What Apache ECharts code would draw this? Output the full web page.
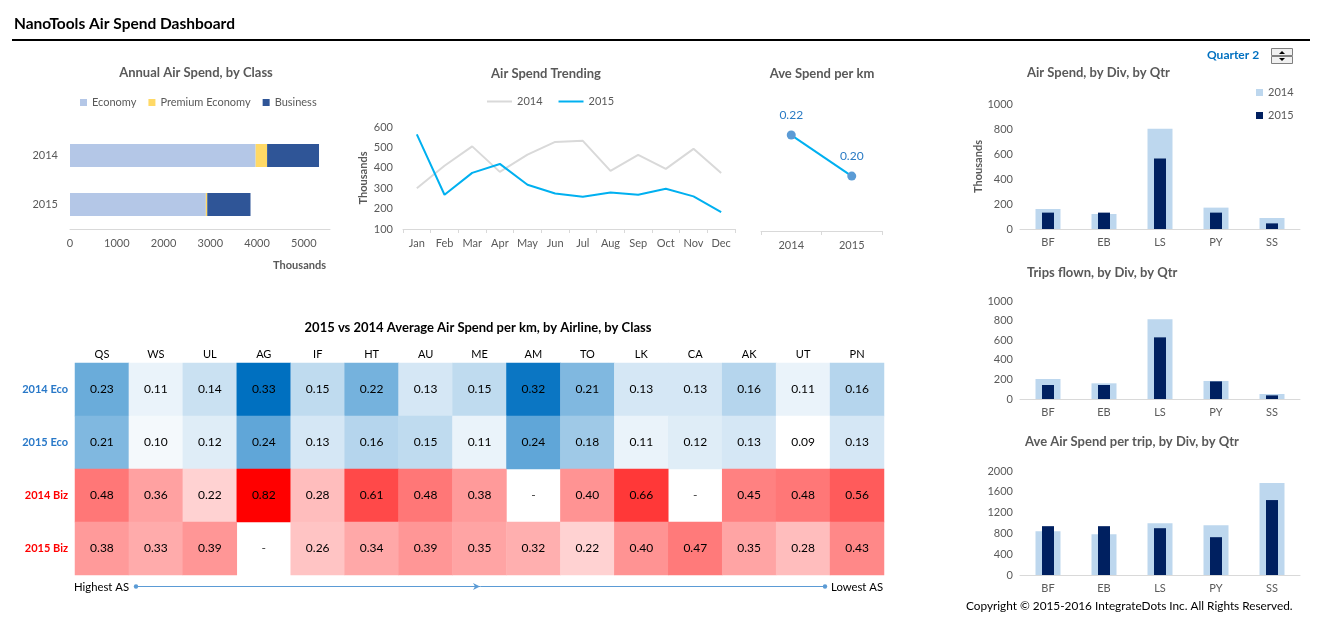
<!DOCTYPE html>
<html><head><meta charset="utf-8">
<script src="https://cdn.jsdelivr.net/npm/echarts@6/dist/echarts.min.js"></script>
<style>html,body{margin:0;padding:0;background:#fff}#c{width:1320px;height:624px}</style>
</head><body><div id="c"></div>
<script>
// ---------- DATA ----------
var years = ['2014', '2015'];
var classNames = ['Economy', 'Premium Economy', 'Business'];
var economy = [3970, 2905];
var premium = [245, 30];
var business = [1110, 925];

var months = ['Jan','Feb','Mar','Apr','May','Jun','Jul','Aug','Sep','Oct','Nov','Dec'];
var trend2014 = [300, 410, 505, 380, 465, 527, 532, 385, 463, 395, 493, 375];
var trend2015 = [564, 268, 375, 419, 317, 274, 258, 279, 268, 297, 260, 183];

var spendPerKm = [0.22, 0.20];

var divs = ['BF','EB','LS','PY','SS'];
var spend2014 = [160, 120, 802, 171, 88];
var spend2015 = [131, 131, 564, 131, 45];
var trips2014 = [204, 160, 813, 184, 51];
var trips2015 = [143, 143, 629, 180, 37];
var perTrip2014 = [842, 785, 997, 958, 1768];
var perTrip2015 = [939, 939, 900, 727, 1441];

var airlines = ['QS','WS','UL','AG','IF','HT','AU','ME','AM','TO','LK','CA','AK','UT','PN'];
var rowLabels = ['2014 Eco','2015 Eco','2014 Biz','2015 Biz'];
var eco2014 = [0.23,0.11,0.14,0.33,0.15,0.22,0.13,0.15,0.32,0.21,0.13,0.13,0.16,0.11,0.16];
var eco2015 = [0.21,0.10,0.12,0.24,0.13,0.16,0.15,0.11,0.24,0.18,0.11,0.12,0.13,0.09,0.13];
var biz2014 = [0.48,0.36,0.22,0.82,0.28,0.61,0.48,0.38,null,0.40,0.66,null,0.45,0.48,0.56];
var biz2015 = [0.38,0.33,0.39,null,0.26,0.34,0.39,0.35,0.32,0.22,0.40,0.47,0.35,0.28,0.43];

// ---------- BUILD ----------
var FONT = 'Lato, "Open Sans", sans-serif';
var GRAY = '#595959', AX = '#d9d9d9';
var LB = '#bdd7ee', DB = '#002060';
function plain(v) { return String(v); }

function heatRows(rows, offset) {
  var out = [];
  rows.forEach(function (r, ri) {
    r.forEach(function (v, ci) { if (v !== null) out.push([ci, ri + offset, v]); });
  });
  return out;
}
var ecoData = heatRows([eco2014, eco2015], 0);
var bizData = heatRows([biz2014, biz2015], 2);
var missing = [];
[eco2014, eco2015, biz2014, biz2015].forEach(function (r, ri) {
  r.forEach(function (v, ci) { if (v === null) missing.push([ci, ri]); });
});

function ttl(text, left, top, align, extra) {
  var o = {text: text, left: left, top: top, padding: 0,
    textStyle: {fontFamily: FONT, fontSize: 13, fontWeight: 'bold', color: GRAY}};
  if (align) o.textAlign = align;
  if (extra) for (var k in extra) o.textStyle[k] = extra[k];
  return o;
}
var lbl = {fontFamily: FONT, fontSize: 11, color: GRAY};
function divX(gi, hidden) {
  var a = {type: 'category', gridIndex: gi, data: divs,
    axisLine: {lineStyle: {color: AX}}, axisTick: {show: false},
    axisLabel: Object.assign({margin: 8}, lbl)};
  if (hidden) a.show = false;
  return a;
}
function divY(gi, max, interval) {
  return {type: 'value', gridIndex: gi, min: 0, max: max, interval: interval,
    splitLine: {show: false}, axisLine: {show: false}, axisTick: {show: false},
    axisLabel: Object.assign({margin: 7, formatter: plain}, lbl)};
}
function divBars(name14, name15, d14, d15, gi, hiddenX) {
  return [
    {type: 'bar', name: name14, xAxisIndex: gi, yAxisIndex: gi, data: d14, barWidth: 25,
      itemStyle: {color: LB}, z: 2},
    {type: 'bar', name: name15, xAxisIndex: hiddenX, yAxisIndex: gi, data: d15, barWidth: 12,
      itemStyle: {color: DB}, z: 3}
  ];
}

var option = {
  animation: false,
  textStyle: {fontFamily: FONT},
  title: [
    ttl('NanoTools Air Spend Dashboard', 14, 16, null, {fontSize: 15.5, color: '#000'}),
    ttl('Annual Air Spend, by Class', 196, 66, 'center'),
    ttl('Air Spend Trending', 546, 67, 'center'),
    ttl('Ave Spend per km', 822, 67, 'center'),
    ttl('Air Spend, by Div, by Qtr', 1027, 66),
    ttl('Trips flown, by Div, by Qtr', 1027, 266),
    ttl('Ave Air Spend per trip, by Div, by Qtr', 1025, 435),
    ttl('2015 vs 2014 Average Air Spend per km, by Airline, by Class', 478, 321, 'center', {color: '#000'}),
    ttl('Quarter 2', 1207, 49, null, {color: '#0070c0', fontSize: 12}),
    ttl('Copyright \u00a9 2015-2016 IntegrateDots Inc. All Rights Reserved.', 966, 600, null,
      {fontWeight: 'normal', fontSize: 11.8, color: '#000'})
  ],
  legend: [
    {data: classNames, left: 80, top: 97, padding: 0, itemWidth: 7, itemHeight: 7, itemGap: 12, icon: 'rect',
      textStyle: lbl, selectedMode: false},
    {data: ['T2014', 'T2015'], left: 487, top: 96, padding: 0, itemWidth: 25, itemHeight: 2, itemGap: 16, icon: 'rect',
      formatter: function (n) { return n.slice(1); }, textStyle: lbl, selectedMode: false},
    {data: ['D2014', 'D2015'], left: 1256, top: 87, padding: 0, orient: 'vertical', itemWidth: 7, itemHeight: 7,
      itemGap: 12, icon: 'rect', formatter: function (n) { return n.slice(1); }, textStyle: lbl, selectedMode: false}
  ],
  grid: [
    {left: 70, top: 131, width: 260, height: 98},
    {left: 403, top: 127, width: 332, height: 102},
    {left: 761, top: 100, width: 121, height: 131},
    {left: 1020, top: 104, width: 280, height: 125},
    {left: 1020, top: 301, width: 280, height: 98},
    {left: 1020, top: 471, width: 280, height: 104},
    {left: 75, top: 363, width: 809, height: 212}
  ],
  xAxis: [
    {type: 'value', gridIndex: 0, min: 0, max: 5560, interval: 1000, splitLine: {show: false},
      axisLine: {show: true, lineStyle: {color: AX}}, axisTick: {show: false},
      axisLabel: Object.assign({margin: 9, showMaxLabel: false, formatter: plain}, lbl)},
    {type: 'category', gridIndex: 1, data: months, boundaryGap: true,
      axisLine: {lineStyle: {color: AX}}, axisTick: {show: true, length: 4, lineStyle: {color: AX}},
      axisLabel: Object.assign({margin: 9}, lbl)},
    {type: 'category', gridIndex: 2, data: years, boundaryGap: true,
      axisLine: {lineStyle: {color: AX}}, axisTick: {show: true, length: 4, lineStyle: {color: AX}},
      axisLabel: Object.assign({margin: 9}, lbl)},
    divX(3), divX(4), divX(5),
    {type: 'category', gridIndex: 6, data: airlines, position: 'top',
      axisLine: {show: false}, axisTick: {show: false},
      axisLabel: {fontFamily: FONT, fontSize: 11, color: '#000', margin: 3}},
    divX(3, true), divX(4, true), divX(5, true)
  ],
  yAxis: [
    {type: 'category', gridIndex: 0, data: years, inverse: true,
      axisLine: {show: false}, axisTick: {show: false}, axisLabel: Object.assign({margin: 12}, lbl)},
    {type: 'value', gridIndex: 1, min: 100, max: 600, interval: 100, splitLine: {show: false},
      axisLine: {show: false}, axisTick: {show: false}, axisLabel: Object.assign({margin: 10}, lbl),
      name: 'Thousands', nameLocation: 'middle', nameGap: 34,
      nameTextStyle: {fontFamily: FONT, fontSize: 11, fontWeight: 'bold', color: GRAY}},
    {type: 'value', gridIndex: 2, min: 0.1732, max: 0.2371, show: false},
    Object.assign(divY(3, 1000, 200), {name: 'Thousands', nameLocation: 'middle', nameGap: 36,
      nameTextStyle: {fontFamily: FONT, fontSize: 11, fontWeight: 'bold', color: GRAY}}),
    divY(4, 1000, 200),
    divY(5, 2000, 400),
    {type: 'category', gridIndex: 6, data: rowLabels, inverse: true,
      axisLine: {show: false}, axisTick: {show: false},
      axisLabel: {fontFamily: FONT, fontSize: 11, fontWeight: 'bold', margin: 7,
        color: function (v) { return v.indexOf('Eco') >= 0 ? '#2878c8' : '#ff0000'; }}}
  ],
  visualMap: [
    {type: 'continuous', show: false, seriesIndex: 12, dimension: 2, min: 0.09, max: 0.33,
      inRange: {color: ['#ffffff', '#0070c0']}},
    {type: 'continuous', show: false, seriesIndex: 13, dimension: 2, min: 0.09, max: 0.82,
      inRange: {color: ['#ffffff', '#ff0000']}}
  ],
  series: [
    {type: 'bar', name: 'Economy', stack: 'c', xAxisIndex: 0, yAxisIndex: 0, data: economy, barWidth: 23,
      itemStyle: {color: '#b4c7e7'}},
    {type: 'bar', name: 'Premium Economy', stack: 'c', xAxisIndex: 0, yAxisIndex: 0, data: premium, barWidth: 23,
      itemStyle: {color: '#ffd966'}},
    {type: 'bar', name: 'Business', stack: 'c', xAxisIndex: 0, yAxisIndex: 0, data: business, barWidth: 23,
      itemStyle: {color: '#2f5597'}},
    {type: 'line', name: 'T2014', xAxisIndex: 1, yAxisIndex: 1, data: trend2014, symbol: 'none',
      lineStyle: {color: '#d9d9d9', width: 2}, itemStyle: {color: '#d9d9d9'}},
    {type: 'line', name: 'T2015', xAxisIndex: 1, yAxisIndex: 1, data: trend2015, symbol: 'none',
      lineStyle: {color: '#00b0f0', width: 2}, itemStyle: {color: '#00b0f0'}},
    {type: 'line', name: 'perkm', xAxisIndex: 2, yAxisIndex: 2, data: spendPerKm, symbol: 'circle', symbolSize: 9,
      lineStyle: {color: '#00b0f0', width: 2}, itemStyle: {color: '#5b9bd5'},
      label: {show: true, position: 'top', distance: 9, fontFamily: FONT, fontSize: 12, color: '#2a7bc4',
        formatter: function (p) { return p.value.toFixed(2); }}}
  ].concat(
    divBars('D2014', 'D2015', spend2014, spend2015, 3, 7),
    divBars('trips2014', 'trips2015', trips2014, trips2015, 4, 8),
    divBars('pt2014', 'pt2015', perTrip2014, perTrip2015, 5, 9),
    [
      {type: 'heatmap', name: 'eco', xAxisIndex: 6, yAxisIndex: 6, data: ecoData,
        label: {show: true, fontFamily: FONT, fontSize: 12, color: '#000',
          formatter: function (p) { return p.value[2].toFixed(2); }},
        emphasis: {disabled: true}},
      {type: 'heatmap', name: 'biz', xAxisIndex: 6, yAxisIndex: 6, data: bizData,
        label: {show: true, fontFamily: FONT, fontSize: 12, color: '#000',
          formatter: function (p) { return p.value[2].toFixed(2); }},
        emphasis: {disabled: true}},
      {type: 'scatter', name: 'missing', xAxisIndex: 6, yAxisIndex: 6, data: missing, symbolSize: 1,
        itemStyle: {color: 'rgba(255,255,255,0)'},
        label: {show: true, position: 'inside', formatter: '-', fontFamily: FONT, fontSize: 12, color: '#000'}}
    ]
  ),
  graphic: [
    {type: 'line', shape: {x1: 12, y1: 40, x2: 1310, y2: 40}, style: {stroke: '#000', lineWidth: 2}},
    {type: 'text', x: 326, y: 265, style: {text: 'Thousands', align: 'right', verticalAlign: 'middle',
      font: 'bold 11px ' + FONT, fill: GRAY}},
    // spinner control
    {type: 'rect', shape: {x: 1271.5, y: 48.5, width: 21, height: 7}, style: {fill: '#f0f0f0', stroke: '#7f7f7f', lineWidth: 1}},
    {type: 'rect', shape: {x: 1271.5, y: 56.5, width: 21, height: 7}, style: {fill: '#f0f0f0', stroke: '#7f7f7f', lineWidth: 1}},
    {type: 'polygon', shape: {points: [[1279, 54], [1285, 54], [1282, 51]]}, style: {fill: '#000'}},
    {type: 'polygon', shape: {points: [[1279, 58], [1285, 58], [1282, 61]]}, style: {fill: '#000'}},
    // Highest / Lowest AS arrow
    {type: 'text', x: 74, y: 587, style: {text: 'Highest AS', align: 'left', verticalAlign: 'middle',
      font: '11.3px ' + FONT, fill: '#000'}},
    {type: 'line', shape: {x1: 136, y1: 586.5, x2: 825, y2: 586.5}, style: {stroke: '#5b9bd5', lineWidth: 1}},
    {type: 'circle', shape: {cx: 136, cy: 586.5, r: 2.2}, style: {fill: '#5b9bd5'}},
    {type: 'circle', shape: {cx: 825, cy: 586.5, r: 2.2}, style: {fill: '#5b9bd5'}},
    {type: 'polygon', shape: {points: [[473, 583], [480, 586.5], [473, 590], [475, 586.5]]}, style: {fill: '#5b9bd5'}},
    {type: 'text', x: 831, y: 587, style: {text: 'Lowest AS', align: 'left', verticalAlign: 'middle',
      font: '11.3px ' + FONT, fill: '#000'}}
  ]
};
var chart = echarts.init(document.getElementById('c'), null, {renderer: 'canvas'});
chart.setOption(option);
</script></body></html>
